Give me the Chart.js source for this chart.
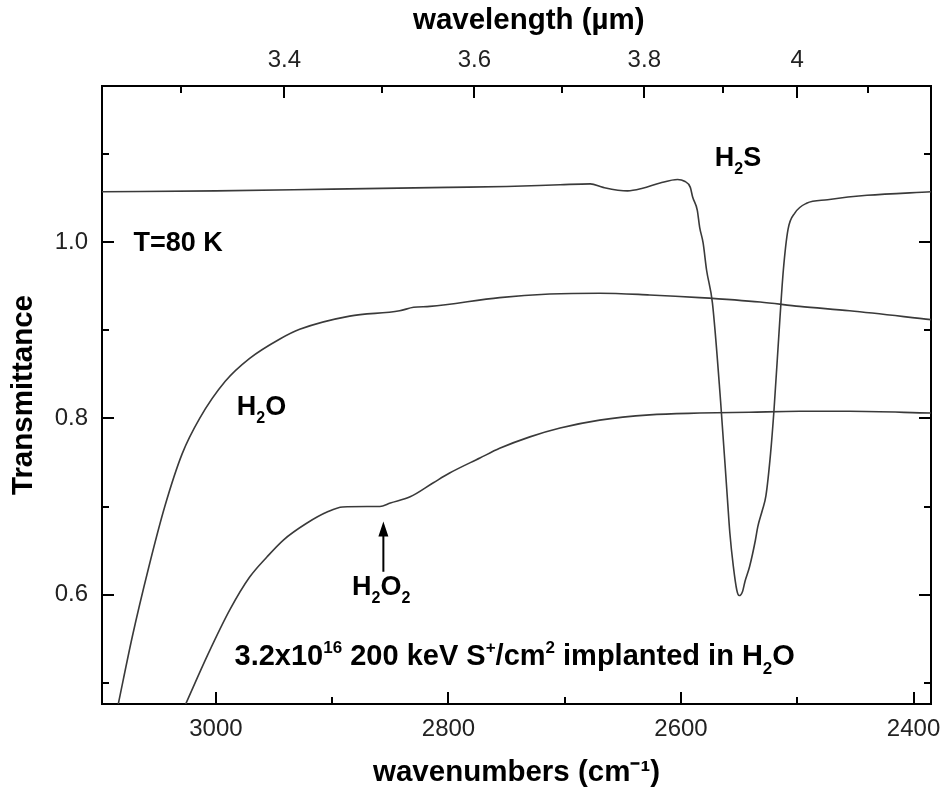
<!DOCTYPE html>
<html>
<head>
<meta charset="utf-8">
<title>Transmittance spectrum</title>
<script src="https://cdn.jsdelivr.net/npm/chart.js@4.4.1/dist/chart.umd.min.js"></script>
<style>
  html, body { margin: 0; padding: 0; background: #fff; }
  #wrap { width: 944px; height: 804px; }
</style>
</head>
<body>
<div id="wrap"><canvas id="irChart" width="944" height="804"></canvas></div>
<script>
// axis ranges and ticks
const xMin = 2385, xMax = 3098;
const yMin = 0.476, yMax = 1.177;
const xMajorTicks = [3000, 2800, 2600, 2400];
const xMinorTicks = [2900, 2700, 2500];
const wlMajorTicks = [3.4, 3.6, 3.8, 4.0];
const wlMinorTicks = [3.3, 3.5, 3.7, 3.9, 4.1];
const yMajorTicks = [0.6, 0.8, 1.0];
const yMinorTicks = [0.5, 0.7, 0.9, 1.1];

// spectra (wavenumber cm-1 / transmittance)
const wnH2S = [3098, 3000, 2900, 2800, 2750, 2704, 2678, 2667, 2646, 2633, 2618, 2603, 2597, 2592, 2590, 2586, 2584, 2581, 2578, 2573, 2566, 2560, 2558, 2555, 2552, 2550, 2547, 2545, 2541, 2536, 2534, 2530, 2527, 2523, 2520, 2515, 2512, 2508, 2502, 2492, 2474, 2440, 2385];
const trH2S = [1.057, 1.058, 1.060, 1.062, 1.063, 1.065, 1.066, 1.062, 1.058, 1.061, 1.067, 1.071, 1.069, 1.062, 1.051, 1.036, 1.017, 0.999, 0.968, 0.931, 0.820, 0.707, 0.670, 0.632, 0.605, 0.599, 0.604, 0.615, 0.632, 0.662, 0.677, 0.696, 0.712, 0.760, 0.810, 0.912, 0.968, 1.014, 1.033, 1.044, 1.048, 1.053, 1.057];

const wnH2O = [3084, 3072, 3058, 3044, 3029, 3014, 2992, 2971, 2945, 2928, 2885, 2842, 2830, 2816, 2756, 2713, 2670, 2627, 2584, 2532, 2498, 2455, 2385];
const trH2O = [0.476, 0.552, 0.630, 0.700, 0.760, 0.800, 0.842, 0.868, 0.890, 0.901, 0.916, 0.922, 0.926, 0.927, 0.937, 0.941, 0.942, 0.940, 0.937, 0.932, 0.927, 0.922, 0.912];

const wnH2O2 = [3026, 3007, 2988, 2971, 2956, 2942, 2922, 2904, 2891, 2870, 2859, 2850, 2833, 2813, 2799, 2773, 2756, 2730, 2704, 2670, 2627, 2584, 2541, 2498, 2455, 2385];
const trH2O2 = [0.476, 0.532, 0.583, 0.620, 0.643, 0.662, 0.681, 0.694, 0.6995, 0.700, 0.700, 0.704, 0.711, 0.727, 0.738, 0.755, 0.766, 0.779, 0.789, 0.798, 0.804, 0.806, 0.807, 0.808, 0.808, 0.806];

const FONT = "'Liberation Sans', Arial, sans-serif";
Chart.defaults.font.family = FONT;
Chart.defaults.color = '#111';

function toPoints(xs, ys) {
  return xs.map((x, i) => ({ x: x, y: ys[i] }));
}

function tickList(major, minor, conv) {
  const f = conv || (v => v);
  return major.map(v => ({ value: f(v), big: true, raw: v }))
    .concat(minor.map(v => ({ value: f(v), big: false, raw: v })));
}

// labels drawn on the plot, placed in data units
const notes = [
  { wn: 3071, tr: 0.990, size: 27, parts: [{ t: 'T=80 K' }] },
  { wn: 2571, tr: 1.086, size: 27, parts: [{ t: 'H' }, { t: '2', sub: true }, { t: 'S' }] },
  { wn: 2982, tr: 0.804, size: 27, parts: [{ t: 'H' }, { t: '2', sub: true }, { t: 'O' }] },
  { wn: 2883, tr: 0.600, size: 27, parts: [{ t: 'H' }, { t: '2', sub: true }, { t: 'O' }, { t: '2', sub: true }] },
  { wn: 2984, tr: 0.520, size: 29, parts: [
    { t: '3.2x10' }, { t: '16', sup: true }, { t: ' 200 keV S' }, { t: '+', sup: true },
    { t: '/cm' }, { t: '2', sup: true }, { t: ' implanted in H' }, { t: '2', sub: true }, { t: 'O' }] }
];
const arrow = { wn: 2856, from: 0.626, to: 0.683 };

function drawRich(ctx, x, y, parts, size) {
  let cx = x;
  parts.forEach(p => {
    const small = p.sub || p.sup;
    const fs = small ? Math.round(size * 0.6) : size;
    ctx.font = 'bold ' + fs + 'px ' + FONT;
    const dy = p.sub ? size * 0.3 : (p.sup ? -size * 0.42 : 0);
    ctx.fillText(p.t, cx, y + dy);
    cx += ctx.measureText(p.t).width;
  });
}

const innerTicks = {
  id: 'innerTicks',
  afterDraw(chart) {
    const { ctx, chartArea: a } = chart;
    ctx.save();
    ctx.strokeStyle = '#000';
    ctx.lineWidth = 2;
    Object.values(chart.scales).forEach(s => {
      s.ticks.forEach(t => {
        const len = t.big ? 12 : 7;
        const p = Math.round(s.getPixelForValue(t.value));
        ctx.beginPath();
        if (s.position === 'bottom') { ctx.moveTo(p, a.bottom); ctx.lineTo(p, a.bottom - len); }
        else if (s.position === 'top') { ctx.moveTo(p, a.top); ctx.lineTo(p, a.top + len); }
        else if (s.position === 'left') { ctx.moveTo(a.left, p); ctx.lineTo(a.left + len, p); }
        else { ctx.moveTo(a.right, p); ctx.lineTo(a.right - len, p); }
        ctx.stroke();
      });
    });
    ctx.restore();
  }
};

const annotations = {
  id: 'annotations',
  afterDatasetsDraw(chart) {
    const { ctx } = chart;
    const xs = chart.scales.x, ys = chart.scales.y;
    ctx.save();
    ctx.fillStyle = '#000';
    ctx.textBaseline = 'alphabetic';
    ctx.textAlign = 'left';
    notes.forEach(n => {
      drawRich(ctx, xs.getPixelForValue(n.wn), ys.getPixelForValue(n.tr), n.parts, n.size);
    });
    // arrow pointing at the H2O2 shoulder
    const ax = xs.getPixelForValue(arrow.wn);
    const y0 = ys.getPixelForValue(arrow.from);
    const y1 = ys.getPixelForValue(arrow.to);
    ctx.strokeStyle = '#000';
    ctx.lineWidth = 2;
    ctx.beginPath();
    ctx.moveTo(ax, y0);
    ctx.lineTo(ax, y1 + 12);
    ctx.stroke();
    ctx.beginPath();
    ctx.moveTo(ax, y1);
    ctx.lineTo(ax - 5, y1 + 15);
    ctx.lineTo(ax + 5, y1 + 15);
    ctx.closePath();
    ctx.fill();
    ctx.restore();
  }
};

const lineStyle = {
  borderColor: '#3a3a3a',
  borderWidth: 1.6,
  pointRadius: 0,
  fill: false,
  cubicInterpolationMode: 'monotone'
};

const borderOpts = { display: true, color: '#000', width: 2 };
const tickFont = { size: 24, family: FONT };
const titleFont = { size: 29.5, weight: 'bold', family: FONT };

const ctx = document.getElementById('irChart').getContext('2d');

new Chart(ctx, {
  type: 'line',
  data: {
    datasets: [
      Object.assign({ label: 'H2S', data: toPoints(wnH2S, trH2S) }, lineStyle),
      Object.assign({ label: 'H2O', data: toPoints(wnH2O, trH2O) }, lineStyle),
      Object.assign({ label: 'H2O2', data: toPoints(wnH2O2, trH2O2) }, lineStyle)
    ]
  },
  options: {
    responsive: false,
    animation: false,
    devicePixelRatio: 1,
    layout: { padding: 0 },
    plugins: {
      legend: { display: false },
      tooltip: { enabled: false }
    },
    scales: {
      x: {
        type: 'linear',
        position: 'bottom',
        min: xMin,
        max: xMax,
        reverse: true,
        afterBuildTicks: s => { s.ticks = tickList(xMajorTicks, xMinorTicks); },
        afterFit: s => { s.height = 100; },
        ticks: {
          autoSkip: false,
          maxRotation: 0,
          padding: 11,
          font: tickFont,
          color: '#222',
          callback: (v, i, t) => t[i].big ? String(t[i].raw) : ''
        },
        grid: { display: false, drawTicks: false },
        border: borderOpts,
        title: {
          display: true,
          text: 'wavenumbers (cm\u207B\u00B9)',
          font: titleFont,
          color: '#000',
          padding: { top: 0, bottom: 13 }
        }
      },
      xTop: {
        type: 'linear',
        position: 'top',
        min: xMin,
        max: xMax,
        reverse: true,
        afterBuildTicks: s => { s.ticks = tickList(wlMajorTicks, wlMinorTicks, w => 1e4 / w); },
        afterFit: s => { s.height = 86; },
        ticks: {
          autoSkip: false,
          maxRotation: 0,
          padding: 11,
          font: tickFont,
          color: '#222',
          callback: (v, i, t) => t[i].big ? (t[i].raw === 4 ? '4' : t[i].raw.toFixed(1)) : ''
        },
        grid: { display: false, drawTicks: false },
        border: borderOpts,
        title: {
          display: true,
          text: '\u00A0\u00A0\u00A0wavelength (\u00B5m)',
          font: titleFont,
          color: '#000',
          padding: { top: 3, bottom: 0 }
        }
      },
      y: {
        type: 'linear',
        position: 'left',
        min: yMin,
        max: yMax,
        afterBuildTicks: s => { s.ticks = tickList(yMajorTicks, yMinorTicks); },
        afterFit: s => { s.width = 102; },
        ticks: {
          autoSkip: false,
          padding: 14,
          font: tickFont,
          color: '#222',
          callback: (v, i, t) => t[i].big ? t[i].raw.toFixed(1) : ''
        },
        grid: { display: false, drawTicks: false },
        border: borderOpts,
        title: {
          display: true,
          text: 'Transmittance',
          font: titleFont,
          color: '#000',
          padding: { top: 6, bottom: 0 }
        }
      },
      yRight: {
        type: 'linear',
        position: 'right',
        min: yMin,
        max: yMax,
        afterBuildTicks: s => { s.ticks = tickList(yMajorTicks, yMinorTicks); },
        afterFit: s => { s.width = 13; },
        ticks: { display: false },
        grid: { display: false, drawTicks: false },
        border: borderOpts
      }
    }
  },
  plugins: [innerTicks, annotations]
});
</script>
</body>
</html>
